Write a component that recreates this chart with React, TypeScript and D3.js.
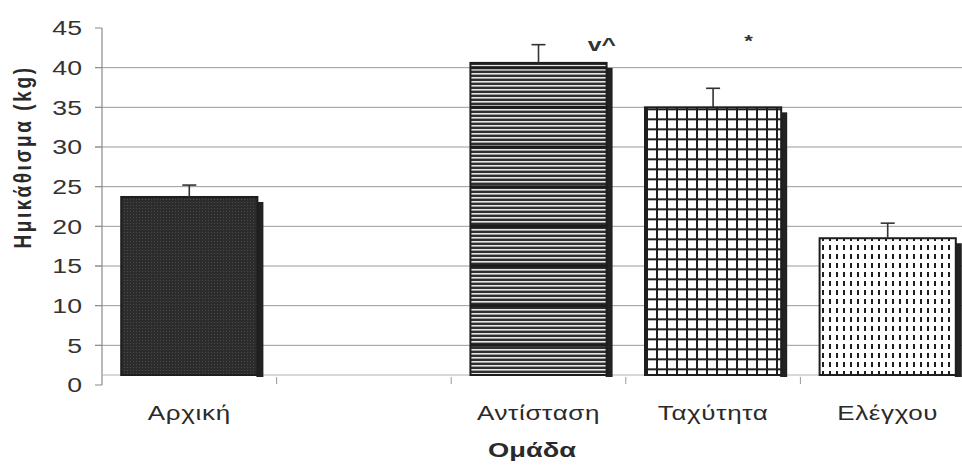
import React from "react";
import * as d3 from "d3";

// ---- data ----
const categories = ["Αρχική", "", "Αντίσταση", "Ταχύτητα", "Ελέγχου"];
const means: (number | null)[] = [23.7, null, 40.6, 35.0, 18.5];
const errors: (number | null)[] = [1.5, null, 2.3, 2.4, 1.9];
const marks = ["", "", "v^", "*", ""];
const markLevel: (number | null)[] = [null, null, 42.1, 42.6, null];
const yTicks = [0, 5, 10, 15, 20, 25, 30, 35, 40, 45];
const yLabel = "Ημικάθισμα (kg)";
const xLabel = "Ομάδα";

// ---- layout / style ----
const W = 962;
const H = 471;
const plot = { left: 102, right: 975, top: 28, bottom: 385, clipRight: 962 };
const floorLift = 10;
const FONT = "'Liberation Sans', Arial, Helvetica, sans-serif";
const SX = 1.3;
const fills = ["url(#pDots)", "", "url(#pStripes)", "url(#pGrid)", "url(#pDashes)"];
const gridThrough = [false, false, true, false, false];
const markDx = [0, 0, 0.965, 0.76, 0];
const markSize = [0, 0, 19, 17, 0];

export default function App() {
  const y = d3.scaleLinear().domain([0, 45]).range([plot.bottom, plot.top]);
  const x = d3
    .scaleBand<string>()
    .domain(categories.map((c, i) => c || `__gap${i}`))
    .range([plot.left, plot.right])
    .paddingInner(0.22)
    .paddingOuter(0.11);
  const key = (i: number) => categories[i] || `__gap${i}`;
  const bw = x.bandwidth();
  const step = x.step();
  const floorY = y(0) - floorLift;

  return (
    <svg
      width={W}
      height={H}
      style={{ position: "absolute", left: 0, top: 0, background: "#fff" }}
      fontFamily={FONT}
    >
      <defs>
        <pattern id="pDots" width={3} height={3} patternUnits="userSpaceOnUse">
          <rect width={3} height={3} fill="#2c2c2c" />
          <rect x={1} y={1} width={1} height={1} fill="#4a4a4a" />
        </pattern>
        <pattern id="pStripes" width={4} height={4} patternUnits="userSpaceOnUse">
          <rect width={4} height={4} fill="#2f2f2f" />
          <rect y={1} width={4} height={1.6} fill="#e6e6e6" />
        </pattern>
        <pattern
          id="pGrid"
          width={10}
          height={10}
          patternUnits="userSpaceOnUse"
          x={(x(key(3)) ?? 0) + 1}
          y={y(means[3] ?? 0) + 1}
        >
          <rect width={10} height={10} fill="#fff" />
          <rect x={0} y={0} width={2} height={10} fill="#1e1e1e" />
          <rect x={0} y={0} width={10} height={2} fill="#1e1e1e" />
        </pattern>
        <pattern id="pDashes" width={7} height={9} patternUnits="userSpaceOnUse">
          <rect width={7} height={9} fill="#fff" />
          <rect x={3} y={2} width={2} height={5} fill="#1e1e1e" />
        </pattern>
        {categories.map((c, i) =>
          means[i] == null ? null : (
            <clipPath id={`clip${i}`} key={`cp${i}`}>
              <rect
                x={x(key(i))}
                y={y(means[i] as number)}
                width={bw}
                height={floorY - y(means[i] as number)}
              />
            </clipPath>
          )
        )}
      </defs>

      {/* gridlines */}
      {yTicks
        .filter((t) => t > 0 && t < 45)
        .map((t) => (
          <line
            key={`g${t}`}
            x1={plot.left - 7}
            x2={plot.clipRight}
            y1={y(t)}
            y2={y(t)}
            stroke="#9a9a9a"
            strokeWidth={1}
          />
        ))}

      {/* y axis */}
      <line x1={plot.left} x2={plot.left} y1={y(45)} y2={y(0)} stroke="#8a8a8a" strokeWidth={1.2} />
      {yTicks.map((t) => (
        <g key={`yt${t}`}>
          <line x1={plot.left - 7} x2={plot.left} y1={y(t)} y2={y(t)} stroke="#8a8a8a" strokeWidth={1} />
          <text
            transform={`translate(82,${y(t)}) scale(${SX},1)`}
            textAnchor="end"
            dy="0.36em"
            fontSize={20.5}
            fill="#333"
          >
            {t}
          </text>
        </g>
      ))}

      {/* floor / x axis */}
      <line x1={plot.left} x2={plot.clipRight} y1={floorY} y2={floorY} stroke="#b0b0b0" strokeWidth={1} />
      {[1, 2, 3, 4].map((i) => (
        <line
          key={`xt${i}`}
          x1={plot.left + step * i}
          x2={plot.left + step * i}
          y1={floorY + 2}
          y2={floorY + 9}
          stroke="#999"
          strokeWidth={1}
        />
      ))}

      {/* bars */}
      {categories.map((c, i) => {
        const v = means[i];
        if (v == null) return null;
        const bx = x(key(i)) as number;
        const top = y(v);
        return (
          <g key={`b${i}`}>
            <rect x={bx + bw - 1} y={top + 5} width={7} height={floorY - top - 3} fill="#222" />
            <rect x={bx} y={top} width={bw} height={floorY - top} fill={fills[i]} stroke="#1e1e1e" strokeWidth={2} />
            {gridThrough[i] && (
              <g clipPath={`url(#clip${i})`}>
                {yTicks
                  .filter((t) => t > 0 && t < v)
                  .map((t) => (
                    <line key={`gt${t}`} x1={bx} x2={bx + bw} y1={y(t)} y2={y(t)} stroke="#1c1c1c" strokeWidth={3} />
                  ))}
              </g>
            )}
          </g>
        );
      })}

      {/* error bars */}
      {categories.map((c, i) => {
        const v = means[i];
        const e = errors[i];
        if (v == null || e == null) return null;
        const cx = (x(key(i)) as number) + bw / 2;
        return (
          <g key={`e${i}`} stroke="#333" strokeWidth={1.6}>
            <line x1={cx} x2={cx} y1={y(v)} y2={y(v + e)} />
            <line x1={cx - 7} x2={cx + 7} y1={y(v + e)} y2={y(v + e)} />
          </g>
        );
      })}

      {/* significance marks */}
      {categories.map((c, i) =>
        marks[i] && markLevel[i] != null ? (
          <text
            key={`m${i}`}
            transform={`translate(${(x(key(i)) as number) + bw * markDx[i]},${y(markLevel[i] as number)}) scale(${SX},1)`}
            textAnchor="middle"
            fontSize={markSize[i]}
            fontWeight="bold"
            fill="#333"
          >
            {marks[i]}
          </text>
        ) : null
      )}

      {/* category labels */}
      {categories.map((c, i) =>
        c ? (
          <text
            key={`xl${i}`}
            transform={`translate(${(x(key(i)) as number) + bw / 2},420) scale(${SX},1)`}
            textAnchor="middle"
            fontSize={20}
            letterSpacing={0.5}
            fill="#2a2a2a"
          >
            {c}
          </text>
        ) : null
      )}

      {/* axis titles */}
      <text
        transform={`translate(${(plot.left + plot.clipRight) / 2},457) scale(${SX},1)`}
        textAnchor="middle"
        fontSize={21}
        fontWeight="bold"
        fill="#2a2a2a"
      >
        {xLabel}
      </text>
      <text
        transform={`translate(31,157) scale(${SX},1) rotate(-90)`}
        textAnchor="middle"
        fontSize={19}
        fontWeight="bold"
        letterSpacing={2.6}
        fill="#2a2a2a"
      >
        {yLabel}
      </text>
    </svg>
  );
}
